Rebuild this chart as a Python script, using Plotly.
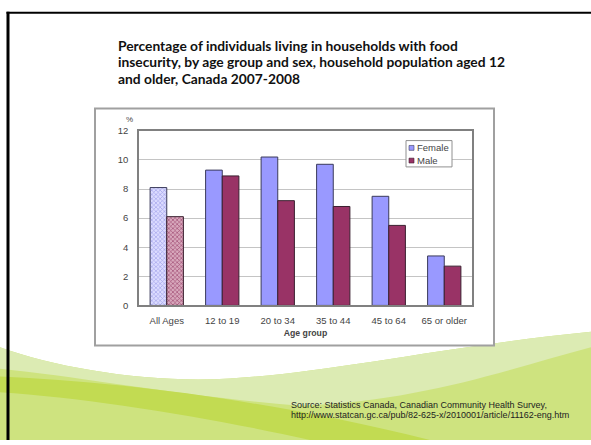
import plotly.graph_objects as go

# ---- data ----
age_groups = ["All Ages", "12 to 19", "20 to 34", "35 to 44", "45 to 64", "65 or older"]
female_pct = [8.1, 9.3, 10.2, 9.7, 7.5, 3.4]
male_pct = [6.1, 8.9, 7.2, 6.8, 5.5, 2.7]
y_ticks = [0, 2, 4, 6, 8, 10, 12]

title_lines = [
    "Percentage of individuals living in households with food",
    "insecurity, by age group and sex, household population aged 12",
    "and older, Canada 2007-2008",
]
source_lines = [
    "Source: Statistics Canada, Canadian Community Health Survey,",
    "http://www.statcan.gc.ca/pub/82-625-x/2010001/article/11162-eng.htm",
]

W, H = 591, 445
FEMALE = "#9999ff"
MALE = "#993366"
AXIS_FONT = dict(family="Liberation Sans", size=9.5, color="#444444")


def X(px):
    return px / W


def Y(py):
    return 1 - py / H


def path(points_cmd):
    """Build an SVG path in paper units from pixel-based commands."""
    out = []
    for item in points_cmd:
        if isinstance(item, str):
            out.append(item)
        else:
            out.append(f"{X(item[0]):.4f},{Y(item[1]):.4f}")
    return " ".join(out)


# "All Ages" bars are cross-hatched, the rest are solid
pattern_shapes = ["x"] + [""] * (len(age_groups) - 1)

fig = go.Figure()
fig.add_trace(go.Bar(
    x=age_groups, y=female_pct, name="Female",
    marker=dict(
        color=FEMALE,
        line=dict(color="#3a3a5a", width=1),
        pattern=dict(shape=pattern_shapes, bgcolor="#dcdcff", fgcolor="#9a9ae8",
                     size=3, solidity=0.35, fillmode="replace"),
    ),
    showlegend=False,
))
fig.add_trace(go.Bar(
    x=age_groups, y=male_pct, name="Male",
    marker=dict(
        color=MALE,
        line=dict(color="#3a2030", width=1),
        pattern=dict(shape=pattern_shapes, bgcolor="#d8a8bc", fgcolor="#99406a",
                     size=3, solidity=0.35, fillmode="replace"),
    ),
    showlegend=False,
))

shapes = []

# green wave decoration at the bottom of the slide
shapes.append(dict(type="path", xref="paper", yref="paper", layer="below",
                   path=path(["M", (0, 350), "C", (60, 372), (150, 387), (230, 382),
                              "C", (330, 376), (450, 348), (W, 334),
                              "L", (W, H), "L", (0, H), "Z"]),
                   fillcolor="#cee37f", line=dict(width=0)))
shapes.append(dict(type="path", xref="paper", yref="paper", layer="below",
                   path=path(["M", (0, 350), "C", (60, 372), (150, 387), (230, 382),
                              "C", (330, 376), (450, 348), (W, 334),
                              "L", (W, 350),
                              "C", (500, 375), (420, 405), (300, 410),
                              "C", (180, 400), (80, 380), (0, 372), "Z"]),
                   fillcolor="#dcebb3", line=dict(width=0)))
shapes.append(dict(type="path", xref="paper", yref="paper", layer="below",
                   path=path(["M", (0, 380), "C", (120, 386), (260, 402), (430, H),
                              "L", (310, H),
                              "C", (210, 422), (90, 402), (0, 396), "Z"]),
                   fillcolor="#c2db52", line=dict(width=0)))

# slide frame lines (top and left)
shapes.append(dict(type="line", xref="paper", yref="paper", x0=X(8), x1=X(8), y0=Y(6), y1=0,
                   line=dict(color="#000000", width=3)))
shapes.append(dict(type="line", xref="paper", yref="paper", x0=X(6.5), x1=1, y0=Y(7), y1=Y(7),
                   line=dict(color="#000000", width=2)))

# chart panel frame
shapes.append(dict(type="rect", xref="paper", yref="paper", layer="below",
                   x0=X(95), x1=X(494), y0=Y(348), y1=Y(105),
                   fillcolor="#ffffff", line=dict(color="#a0a0a0", width=2)))

# legend box with swatches
shapes.append(dict(type="rect", xref="paper", yref="paper",
                   x0=X(406), x1=X(452), y0=Y(165), y1=Y(138),
                   fillcolor="#ffffff", line=dict(color="#909090", width=1)))
shapes.append(dict(type="rect", xref="paper", yref="paper",
                   x0=X(409), x1=X(414), y0=Y(148), y1=Y(143),
                   fillcolor=FEMALE, line=dict(color="#404060", width=0.6)))
shapes.append(dict(type="rect", xref="paper", yref="paper",
                   x0=X(409), x1=X(414), y0=Y(161), y1=Y(156),
                   fillcolor=MALE, line=dict(color="#402030", width=0.6)))

annotations = []
for i, line in enumerate(title_lines):
    annotations.append(dict(
        text=f"<b>{line}</b>", xref="paper", yref="paper",
        x=X(116), y=Y(40 + 17 * i), xanchor="left", yanchor="middle",
        showarrow=False, font=dict(family="Lato", size=13.8, color="#111111"),
    ))
for i, line in enumerate(source_lines):
    annotations.append(dict(
        text=line, xref="paper", yref="paper",
        x=X(289), y=Y(409 + 10 * i), xanchor="left", yanchor="middle",
        showarrow=False, font=dict(family="Liberation Sans", size=9, color="#222222"),
    ))
annotations.append(dict(text="%", xref="paper", yref="paper", x=X(129), y=Y(116),
                        xanchor="center", yanchor="middle", showarrow=False,
                        font=dict(family="Liberation Sans", size=8, color="#444444")))
annotations.append(dict(text="Female", xref="paper", yref="paper", x=X(414.5), y=Y(145.5),
                        xanchor="left", yanchor="middle", showarrow=False,
                        font=dict(family="Liberation Sans", size=9.5, color="#444444")))
annotations.append(dict(text="Male", xref="paper", yref="paper", x=X(414.5), y=Y(158.5),
                        xanchor="left", yanchor="middle", showarrow=False,
                        font=dict(family="Liberation Sans", size=9.5, color="#444444")))

fig.update_layout(
    width=W, height=H,
    margin=dict(l=0, r=0, t=0, b=0),
    paper_bgcolor="#ffffff", plot_bgcolor="#ffffff",
    barmode="group", bargap=0.4, bargroupgap=0,
    shapes=shapes, annotations=annotations,
    xaxis=dict(
        domain=[X(139), X(472)],
        showline=True, linecolor="#808080", linewidth=1.5, mirror=True,
        ticks="", ticklabelstandoff=5, tickfont=AXIS_FONT,
        title=dict(text="<b>Age group</b>", standoff=5,
                   font=dict(family="Liberation Sans", size=8.7, color="#444444")),
    ),
    yaxis=dict(
        domain=[Y(307), Y(128)],
        range=[0, 12], tickvals=y_ticks,
        showline=True, linecolor="#808080", linewidth=1.5, mirror=True,
        showgrid=True, gridcolor="#c4c4c4", gridwidth=1.3,
        ticks="", ticklabelstandoff=7, tickfont=AXIS_FONT,
    ),
    font=dict(family="Liberation Sans"),
)

fig.write_html("out.html")
